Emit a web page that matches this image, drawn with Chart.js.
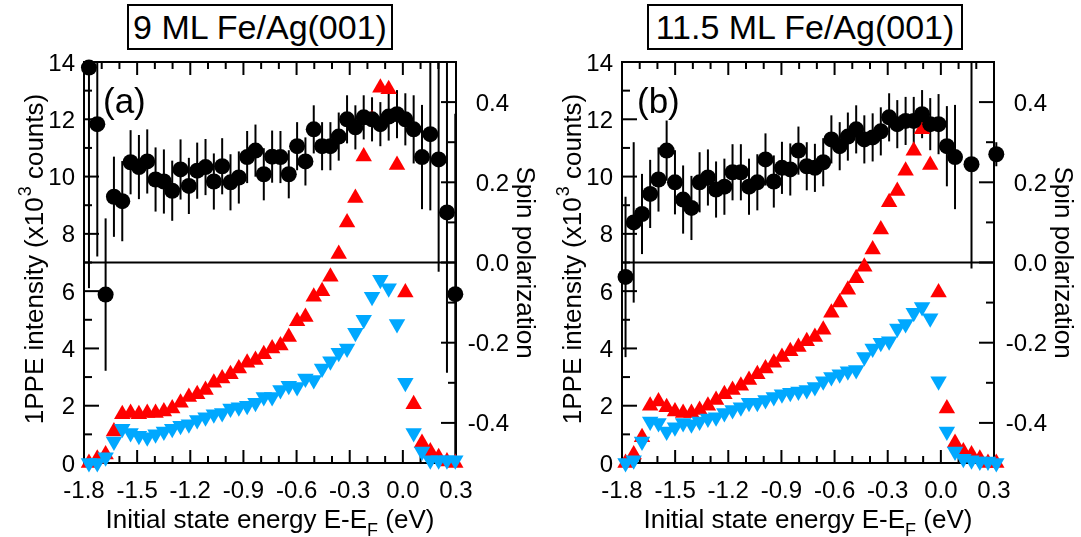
<!DOCTYPE html>
<html>
<head>
<meta charset="utf-8">
<script src="https://cdn.jsdelivr.net/npm/chart.js@4.4.1/dist/chart.umd.min.js"></script>
<style>
  body { margin: 0; background: #fff; width: 1081px; height: 537px; position: relative; overflow: hidden; font-family: 'Liberation Sans', Arial, sans-serif; }
  canvas { position: absolute; top: 0; }
  .ttl { position: absolute; top: 4px; height: 42px; border: 2px solid #000; font-size: 34px; line-height: 42px; text-align: center; color: #000; white-space: nowrap; }
</style>
</head>
<body>
<div class="ttl" style="left:127px; width:262px;">9 ML Fe/Ag(001)</div>
<div class="ttl" style="left:647px; width:312px;">11.5 ML Fe/Ag(001)</div>
<canvas id="chartA" width="540" height="537" style="left:0px"></canvas>
<canvas id="chartB" width="541" height="537" style="left:540px"></canvas>
<script>
// ---- panel (a): 9 ML Fe/Ag(001) ----
const energiesA = [-1.772, -1.725, -1.678, -1.631, -1.584, -1.537, -1.490, -1.443, -1.396, -1.349,
  -1.302, -1.255, -1.208, -1.161, -1.114, -1.067, -1.020, -0.973, -0.926, -0.879,
  -0.832, -0.785, -0.738, -0.691, -0.644, -0.597, -0.550, -0.503, -0.456, -0.409,
  -0.362, -0.315, -0.268, -0.221, -0.174, -0.127, -0.080, -0.033, 0.014, 0.061,
  0.108, 0.155, 0.202, 0.249, 0.296];
const majorityA = [0.0, 0.15, 0.3, 1.1, 1.7, 1.75, 1.7, 1.75, 1.75, 1.8,
  1.9, 2.1, 2.3, 2.4, 2.55, 2.8, 2.95, 3.1, 3.3, 3.5,
  3.6, 3.8, 4.0, 4.1, 4.4, 4.95, 5.1, 5.8, 6.0, 6.5,
  7.3, 8.4, 9.25, 10.7, 12.0, 13.1, 13.05, 10.4, 5.95, 2.05,
  0.7, 0.4, 0.2, 0.05, 0.0];
const minorityA = [0.0, 0.0, 0.2, 0.75, 1.2, 1.05, 0.95, 0.9, 1.0, 1.1,
  1.2, 1.3, 1.35, 1.5, 1.6, 1.7, 1.75, 1.9, 1.95, 2.0,
  2.1, 2.3, 2.3, 2.55, 2.7, 2.65, 2.95, 2.9, 3.3, 3.55,
  3.85, 4.0, 4.55, 5.0, 5.8, 6.4, 6.1, 4.85, 2.8, 1.05,
  0.4, 0.1, 0.1, 0.1, 0.1];
const spinA = [0.486, 0.345, -0.080, 0.164, 0.153, 0.250, 0.238, 0.252, 0.207, 0.202,
  0.179, 0.232, 0.191, 0.229, 0.238, 0.202, 0.240, 0.200, 0.212, 0.263,
  0.279, 0.220, 0.264, 0.263, 0.220, 0.290, 0.252, 0.332, 0.290, 0.290,
  0.314, 0.357, 0.337, 0.362, 0.357, 0.345, 0.364, 0.370, 0.357, 0.332,
  0.263, 0.320, 0.257, 0.125, -0.079];
const spinErrA = [0.55, 0.33, 0.19, 0.10, 0.10, 0.08, 0.08, 0.08, 0.08, 0.08,
  0.075, 0.075, 0.07, 0.07, 0.07, 0.07, 0.07, 0.07, 0.065, 0.065,
  0.065, 0.065, 0.065, 0.065, 0.06, 0.06, 0.06, 0.06, 0.06, 0.06,
  0.06, 0.06, 0.055, 0.055, 0.055, 0.055, 0.06, 0.06, 0.065, 0.085,
  0.13, 0.19, 0.28, 0.40, 0.45];

// ---- panel (b): 11.5 ML Fe/Ag(001) ----
const energiesB = [-1.780, -1.734, -1.687, -1.641, -1.594, -1.548, -1.501, -1.455, -1.408, -1.362,
  -1.315, -1.269, -1.222, -1.176, -1.129, -1.083, -1.036, -0.990, -0.943, -0.897,
  -0.850, -0.804, -0.757, -0.711, -0.664, -0.618, -0.571, -0.525, -0.478, -0.432,
  -0.385, -0.339, -0.292, -0.246, -0.199, -0.153, -0.106, -0.060, -0.013, 0.034,
  0.080, 0.127, 0.173, 0.220, 0.266, 0.313];
const majorityB = [0.0, 0.3, 0.9, 2.0, 2.15, 1.95, 1.8, 1.75, 1.75, 1.85,
  2.0, 2.2, 2.4, 2.55, 2.7, 2.9, 3.1, 3.3, 3.5, 3.7,
  3.9, 4.05, 4.25, 4.4, 4.65, 5.25, 5.6, 6.05, 6.45, 6.85,
  7.45, 8.15, 9.1, 9.5, 10.2, 10.9, 11.65, 10.4, 5.95, 1.9,
  0.7, 0.4, 0.3, 0.15, 0.0, 0.0];
const minorityB = [0.0, 0.1, 0.75, 1.45, 1.4, 1.1, 1.25, 1.4, 1.35, 1.45,
  1.55, 1.6, 1.75, 1.85, 1.95, 2.1, 2.1, 2.2, 2.3, 2.4,
  2.45, 2.5, 2.55, 2.65, 2.85, 3.0, 3.1, 3.2, 3.25, 3.7,
  4.0, 4.2, 4.25, 4.7, 4.85, 5.25, 5.45, 5.05, 2.85, 1.1,
  0.4, 0.15, 0.1, 0.05, 0.05, 0.0];
const spinB = [-0.036, 0.100, 0.121, 0.171, 0.207, 0.279, 0.200, 0.157, 0.136, 0.200,
  0.212, 0.182, 0.189, 0.225, 0.225, 0.189, 0.200, 0.257, 0.202, 0.236,
  0.232, 0.279, 0.240, 0.236, 0.250, 0.307, 0.290, 0.314, 0.332, 0.307,
  0.312, 0.327, 0.362, 0.345, 0.353, 0.353, 0.370, 0.345, 0.345, 0.290,
  0.263, null, 0.245, null, null, 0.270];
const spinErrB = [0.2, 0.2, 0.1, 0.085, 0.08, 0.075, 0.08, 0.085, 0.08, 0.075,
  0.07, 0.07, 0.07, 0.07, 0.07, 0.07, 0.07, 0.065, 0.065, 0.065,
  0.065, 0.06, 0.06, 0.06, 0.06, 0.06, 0.06, 0.06, 0.06, 0.06,
  0.06, 0.06, 0.06, 0.06, 0.06, 0.06, 0.06, 0.065, 0.075, 0.1,
  0.13, null, 0.26, null, null, 0.03];

// ---- axes ----
const xMajor = [-1.8, -1.5, -1.2, -0.9, -0.6, -0.3, 0.0, 0.3];
const xLabels = ['-1.8', '-1.5', '-1.2', '-0.9', '-0.6', '-0.3', '0.0', '0.3'];
const xMinor = [-1.7, -1.6, -1.4, -1.3, -1.1, -1.0, -0.8, -0.7, -0.5, -0.4, -0.2, -0.1, 0.1, 0.2];
const yMajor = [0, 2, 4, 6, 8, 10, 12, 14];
const yLabels = ['0', '2', '4', '6', '8', '10', '12', '14'];
const yMinor = [1, 3, 5, 7, 9, 11, 13];
const pMajor = [-0.4, -0.2, 0.0, 0.2, 0.4];
const pLabels = ['-0.4', '-0.2', '0.0', '0.2', '0.4'];
const pMinor = [-0.3, -0.1, 0.1, 0.3];

const FONT = "'Liberation Sans', Arial, sans-serif";
const RED = '#ff0000';
const BLUE = 'rgb(0,168,255)';

function seg(ctx, x1, y1, x2, y2) {
  ctx.beginPath();
  ctx.moveTo(x1, y1);
  ctx.lineTo(x2, y2);
  ctx.stroke();
}

// draws the frame, inward ticks, the zero line and the error bars
const framePlugin = {
  id: 'frame',
  beforeDatasetsDraw(chart) {
    const { ctx, chartArea: a, scales } = chart;
    const x = scales.x, y = scales.y, y1 = scales.y1;
    ctx.save();
    ctx.strokeStyle = '#000';
    ctx.lineWidth = 2;
    ctx.strokeRect(a.left, a.top, a.right - a.left, a.bottom - a.top);
    const z = y1.getPixelForValue(0);
    seg(ctx, a.left, z, a.right, z);
    xMajor.forEach(v => { const p = x.getPixelForValue(v); seg(ctx, p, a.bottom, p, a.bottom - 13); seg(ctx, p, a.top, p, a.top + 13); });
    xMinor.forEach(v => { const p = x.getPixelForValue(v); seg(ctx, p, a.bottom, p, a.bottom - 7); seg(ctx, p, a.top, p, a.top + 7); });
    yMajor.forEach(v => { const p = y.getPixelForValue(v); seg(ctx, a.left, p, a.left + 15, p); });
    yMinor.forEach(v => { const p = y.getPixelForValue(v); seg(ctx, a.left, p, a.left + 8, p); });
    pMajor.forEach(v => { const p = y1.getPixelForValue(v); seg(ctx, a.right, p, a.right - 15, p); });
    pMinor.forEach(v => { const p = y1.getPixelForValue(v); seg(ctx, a.right, p, a.right - 8, p); });

    // error bars of the spin polarization
    chart.data.datasets.forEach((ds, i) => {
      if (ds.yAxisID !== 'y1') return;
      const meta = chart.getDatasetMeta(i);
      ds.data.forEach((d, j) => {
        const pt = meta.data[j];
        const top = Math.max(y1.getPixelForValue(d.y + d.err), a.top);
        const bot = Math.min(y1.getPixelForValue(d.y - d.err), a.bottom);
        seg(ctx, pt.x, top, pt.x, bot);
      });
    });
    ctx.restore();
  },
  afterDraw(chart, args, opts) {
    const { ctx, chartArea: a, scales } = chart;
    const x = scales.x, y = scales.y, y1 = scales.y1;
    ctx.save();
    ctx.fillStyle = '#000';
    ctx.textBaseline = 'alphabetic';
    ctx.font = '24px ' + FONT;
    ctx.textAlign = 'right';
    yMajor.forEach((v, i) => ctx.fillText(yLabels[i], a.left - 9, y.getPixelForValue(v) + 8.5));
    pMajor.forEach((v, i) => ctx.fillText(pLabels[i], a.right + 53, y1.getPixelForValue(v) + 8.5));
    ctx.textAlign = 'center';
    xMajor.forEach((v, i) => ctx.fillText(xLabels[i], x.getPixelForValue(v), a.bottom + 35));

    // panel letter
    ctx.textAlign = 'left';
    ctx.font = '35px ' + FONT;
    ctx.fillText(opts.letter, a.left + opts.letterDx, 113);

    // x title with subscript F
    const big = '26px ' + FONT, small = '18px ' + FONT;
    ctx.font = big;
    const t1 = 'Initial state energy E-E', t3 = ' (eV)';
    const w1 = ctx.measureText(t1).width, w3 = ctx.measureText(t3).width;
    ctx.font = small;
    const w2 = ctx.measureText('F').width;
    let sx = (a.left + a.right) / 2 - (w1 + w2 + w3) / 2;
    const by = a.bottom + 65;
    ctx.font = big; ctx.fillText(t1, sx, by);
    ctx.font = small; ctx.fillText('F', sx + w1, by + 8);
    ctx.font = big; ctx.fillText(t3, sx + w1 + w2, by);

    // left title with superscript 3
    ctx.save();
    ctx.translate(a.left - 50 + 9, (a.top + a.bottom) / 2 - 3);
    ctx.rotate(-Math.PI / 2);
    const l1 = '1PPE intensity (x10', l3 = ' counts)';
    ctx.font = big;
    const lw1 = ctx.measureText(l1).width, lw3 = ctx.measureText(l3).width;
    ctx.font = small;
    const lw2 = ctx.measureText('3').width;
    let lx = -(lw1 + lw2 + lw3) / 2;
    ctx.font = big; ctx.fillText(l1, lx, 0);
    ctx.font = small; ctx.fillText('3', lx + lw1 + 1, -12);
    ctx.font = big; ctx.fillText(l3, lx + lw1 + lw2 + 1, 0);
    ctx.restore();

    // right title
    ctx.save();
    ctx.translate(a.right + 70 - 9, (a.top + a.bottom) / 2);
    ctx.rotate(Math.PI / 2);
    ctx.font = big;
    ctx.textAlign = 'center';
    ctx.fillText('Spin polarization', 0, 0);
    ctx.restore();
    ctx.restore();
  }
};

function makePanel(id, energies, majority, minority, spin, spinErr, pad, letter, letterDx) {
  const spinPts = [];
  energies.forEach((e, i) => {
    if (spin[i] !== null) spinPts.push({ x: e, y: spin[i], err: spinErr[i] });
  });
  new Chart(document.getElementById(id), {
    type: 'scatter',
    data: {
      datasets: [
        {
          label: 'majority',
          data: energies.map((e, i) => ({ x: e, y: majority[i] })),
          yAxisID: 'y',
          pointStyle: 'triangle',
          pointRadius: 9.5,
          pointBorderWidth: 0,
          backgroundColor: RED,
          borderColor: RED,
          clip: false,
          order: 3
        },
        {
          label: 'minority',
          data: energies.map((e, i) => ({ x: e, y: minority[i] })),
          yAxisID: 'y',
          pointStyle: 'triangle',
          pointRotation: 180,
          pointRadius: 9.5,
          pointBorderWidth: 0,
          backgroundColor: BLUE,
          borderColor: BLUE,
          clip: false,
          order: 2
        },
        {
          label: 'spin polarization',
          data: spinPts,
          yAxisID: 'y1',
          pointStyle: 'circle',
          pointRadius: 8,
          pointBorderWidth: 0,
          backgroundColor: '#000',
          borderColor: '#000',
          clip: false,
          order: 1
        }
      ]
    },
    options: {
      responsive: false,
      animation: false,
      layout: { padding: pad },
      scales: {
        x: { type: 'linear', min: -1.8, max: 0.3, display: false },
        y: { type: 'linear', min: 0, max: 14, display: false },
        y1: { type: 'linear', position: 'right', min: -0.5, max: 0.5, display: false }
      },
      plugins: {
        legend: { display: false },
        tooltip: { enabled: false },
        frame: { letter: letter, letterDx: letterDx }
      }
    },
    plugins: [framePlugin]
  });
}

makePanel('chartA', energiesA, majorityA, minorityA, spinA, spinErrA,
  { left: 84, right: 84, top: 62, bottom: 74 }, '(a)', 19);
makePanel('chartB', energiesB, majorityB, minorityB, spinB, spinErrB,
  { left: 82, right: 87, top: 62, bottom: 74 }, '(b)', 15);
</script>
</body>
</html>
